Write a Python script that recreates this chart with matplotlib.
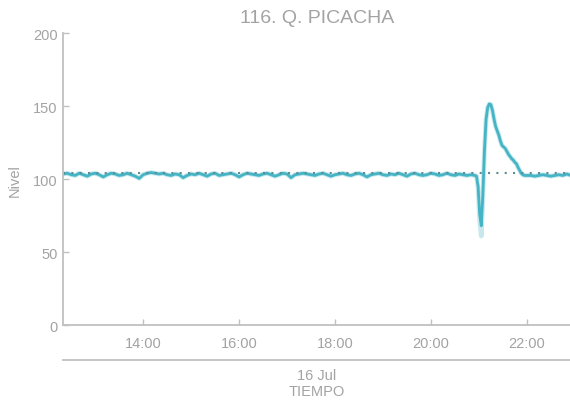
import pandas as pd
import numpy as np
import matplotlib.pyplot as plt
import matplotlib.dates as mdates

plt.rcParams['font.family'] = ['Liberation Sans', 'DejaVu Sans']

# nivel base, cada 5 min desde 12:20 hasta 20:55
hora_base = pd.date_range('2023-07-16 12:20', '2023-07-16 20:55', freq='5min')
nivel_base = [103.5, 104, 103, 102.5, 104, 103, 102, 103.5, 104, 103,
              101.5, 103, 104, 103.5, 102.5, 103, 104, 103, 102, 100.5,
              103, 104, 104.5, 104, 103.5, 104, 103, 102.5, 103.5, 103,
              101, 102.5, 103.5, 103, 104, 103, 102, 103.5, 104, 102.5,
              103, 103.5, 104, 103, 101.5, 103, 104, 103.5, 103, 102.5,
              103.5, 104, 103, 102, 103, 104, 103.5, 101, 103, 103.5,
              104, 103.5, 103, 102.5, 103.5, 104, 103, 102, 103, 103.5,
              104, 103, 102.5, 103.5, 104, 103, 101.5, 103, 103.5, 104,
              103, 102.5, 103.5, 103, 104, 103, 102, 103.5, 104, 103,
              102.5, 103, 104, 103.5, 102.5, 103, 104, 103, 102.5, 103.5,
              103, 102.5, 103, 102.5]

# evento, cada 2 min desde 20:57
hora_evento = pd.date_range('2023-07-16 20:57', '2023-07-16 22:01', freq='2min')
nivel_evento = [102, 95, 76, 68, 90, 120, 141, 149, 151.5, 151,
                147, 141, 136, 133, 130, 126, 123, 122, 121, 119,
                117, 115.5, 114, 113, 111.5, 110.5, 108, 106, 104, 103,
                102.5, 102.5, 102.5]
nivel_evento_crudo = [102, 94, 72, 61, 88, 120, 141, 149, 151.5, 151,
                      147, 141, 136, 133, 130, 126, 123, 122, 121, 119,
                      117, 115.5, 114, 113, 111.5, 110.5, 108, 106, 104, 103,
                      102.5, 102.5, 102.5]

# cola, cada 5 min
hora_cola = pd.date_range('2023-07-16 22:05', '2023-07-16 22:55', freq='5min')
nivel_cola = [102.5, 102, 102.5, 103, 102.5, 102, 102.5, 103, 102.5, 103.5, 102.5]

nivel_ref = 104.5
inicio = pd.Timestamp('2023-07-16 12:20')
fin = pd.Timestamp('2023-07-16 22:54')

hora = list(hora_base) + list(hora_evento) + list(hora_cola)
nivel = nivel_base + nivel_evento + nivel_cola
nivel_crudo = nivel_base + nivel_evento_crudo + nivel_cola

gris = '#a3a3a3'
gris_eje = '#c0c0c0'
color_linea = '#45b4c4'

fig = plt.figure(figsize=(5.7, 4.02), dpi=100, facecolor='white')
ax = fig.add_axes([0.111, 0.189, 0.889, 0.726])

ax.plot(hora, nivel_crudo, color=color_linea, lw=3.4, alpha=0.3, solid_capstyle='round')
ax.plot(hora, nivel, color=color_linea, lw=2.0)
ax.plot([inicio, fin], [nivel_ref, nivel_ref], color='#5e8d97', lw=1.5,
        linestyle=(0, (1, 3.0)))

ax.set_xlim(inicio, fin)
ax.set_ylim(0, 200)
ax.set_yticks([0, 50, 100, 150, 200])
ax.xaxis.set_major_locator(mdates.HourLocator(byhour=[14, 16, 18, 20, 22]))
ax.xaxis.set_major_formatter(mdates.DateFormatter('%H:%M'))

for s in ['top', 'right']:
    ax.spines[s].set_visible(False)
for s in ['left', 'bottom']:
    ax.spines[s].set_color(gris_eje)
    ax.spines[s].set_linewidth(1.3)

ax.tick_params(axis='both', direction='in', length=4, width=1, color=gris_eje,
               labelcolor=gris, labelsize=10.5)
ax.tick_params(axis='x', pad=8)
ax.tick_params(axis='y', pad=4)

ax.set_ylabel('Nivel', color=gris, fontsize=10.5, labelpad=8)
ax.set_title('116. Q. PICACHA', color=gris, fontsize=14, pad=8)

# segunda linea del eje de tiempo
ax.plot([0, 1], [-0.12, -0.12], transform=ax.transAxes, color=gris_eje,
        lw=1.3, clip_on=False)
ax.text(0.5, -0.171, '16 Jul', transform=ax.transAxes, ha='center', va='center',
        color=gris, fontsize=10.5)
ax.text(0.5, -0.226, 'TIEMPO', transform=ax.transAxes, ha='center', va='center',
        color=gris, fontsize=10.5)

fig.savefig('out.png', dpi=100, facecolor='white')
